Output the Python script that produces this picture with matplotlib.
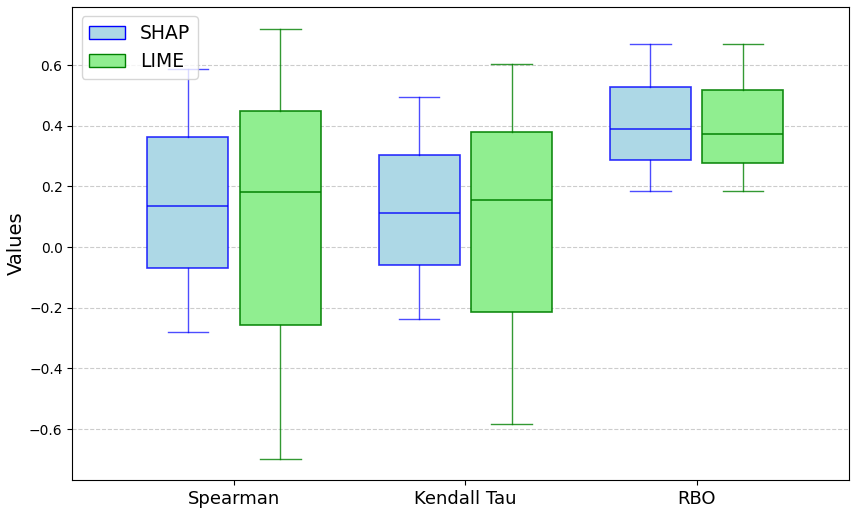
import matplotlib
matplotlib.use("Agg")
import matplotlib.pyplot as plt
from matplotlib.patches import Patch
from matplotlib.colors import to_rgba

metrics = ["Spearman", "Kendall Tau", "RBO"]

# five-number summaries per metric: whisker low, q1, median, q3, whisker high
shap_low = [-0.280, -0.237, 0.185]
shap_q1 = [-0.069, -0.059, 0.287]
shap_med = [0.135, 0.112, 0.389]
shap_q3 = [0.363, 0.303, 0.528]
shap_high = [0.587, 0.495, 0.669]

lime_low = [-0.699, -0.584, 0.185]
lime_q1 = [-0.257, -0.214, 0.277]
lime_med = [0.181, 0.155, 0.373]
lime_q3 = [0.448, 0.379, 0.518]
lime_high = [0.719, 0.603, 0.669]


def make_stats(low, q1, med, q3, high):
    return [dict(whislo=a, q1=b, med=c, q3=d, whishi=e, fliers=[])
            for a, b, c, d, e in zip(low, q1, med, q3, high)]


fig, ax = plt.subplots(figsize=(8.51, 5.08), dpi=100)
fig.subplots_adjust(left=0.085, right=0.998, top=0.986, bottom=0.055)

centers = list(range(len(metrics)))
width = 0.35
offset = 0.2

groups = [
    (make_stats(shap_low, shap_q1, shap_med, shap_q3, shap_high), -offset, "lightblue", "blue", 0.8),
    (make_stats(lime_low, lime_q1, lime_med, lime_q3, lime_high), offset, "lightgreen", "green", 0.9),
]
for stats, dx, face, edge, a in groups:
    ax.bxp(stats, positions=[c + dx for c in centers], widths=width,
           patch_artist=True, showfliers=False,
           boxprops=dict(facecolor=face, edgecolor=to_rgba(edge, a), linewidth=1.2),
           medianprops=dict(color=to_rgba(edge, a), linewidth=1.2),
           whiskerprops=dict(color=to_rgba(edge, a - 0.1), linewidth=1.0),
           capprops=dict(color=to_rgba(edge, a - 0.1), linewidth=1.0))

ax.set_xticks(centers)
ax.set_xticklabels(metrics, fontsize=13)
ax.set_xlim(-0.70, 2.66)
ax.set_ylim(-0.768, 0.791)
ax.set_ylabel("Values", fontsize=14, labelpad=2)
ax.yaxis.grid(True, linestyle="--", color="gray", alpha=0.4)
ax.set_axisbelow(True)

handles = [Patch(facecolor="lightblue", edgecolor="blue", label="SHAP"),
           Patch(facecolor="lightgreen", edgecolor="green", label="LIME")]
ax.legend(handles=handles, loc="upper left", fontsize=13.5, handlelength=1.9)

fig.savefig("out.png", dpi=100)
